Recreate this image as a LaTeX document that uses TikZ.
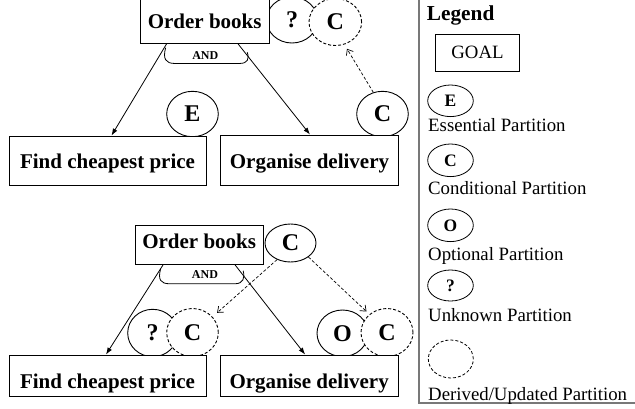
\documentclass[tikz,border=0pt]{standalone}
\usepackage{fontspec}
\setmainfont{Liberation Serif}
\usetikzlibrary{arrows.meta,shapes.geometric,calc}
\definecolor{framegray}{RGB}{120,120,120}
\begin{document}
\begin{tikzpicture}[x=1pt,y=-1pt,
  goalbox/.style={draw,fill=white,line width=0.9pt,inner xsep=0pt,inner ysep=0pt,
    anchor=base,font=\fontsize{21}{24}\selectfont\bfseries},
  part/.style={ellipse,draw,line width=0.9pt,fill=white,inner sep=0pt,
    font=\fontsize{24}{28}\selectfont\bfseries},
  derivedpart/.style={part,dash pattern=on 3pt off 2pt},
  refine/.style={line width=0.8pt,-{Latex[length=7pt,width=5pt]}},
  derivedflow/.style={line width=0.7pt,dash pattern=on 3pt off 2pt,
    -{Straight Barb[length=5pt,width=8pt]}},
  andarc/.style={line width=0.8pt},
  andlbl/.style={inner sep=0pt,font=\fontsize{12}{14}\selectfont\bfseries},
  legpart/.style={ellipse,draw,line width=0.8pt,inner sep=0pt,
    font=\fontsize{17.5}{20}\selectfont\bfseries},
  legtext/.style={inner sep=0pt,anchor=base west,font=\fontsize{18.8}{22}\selectfont}
]
\useasboundingbox (0,0) rectangle (635,408);

% ---------- upper decomposition ----------
\node[part,minimum width=51pt,minimum height=46pt] (q1) at (292,20) {?};
\node[derivedpart,minimum width=52.6pt,minimum height=47pt] (dc1) at (335.3,22) {C};
\node[part,minimum width=51.6pt,minimum height=45.4pt] (e1) at (192.5,114) {E};
\node[part,minimum width=51.6pt,minimum height=45.4pt] (c1) at (382.5,114) {C};

\node[goalbox,minimum width=129.3pt,text height=31.3pt,text depth=15pt] (ob1) at (204.65,28.3) {Order books};
\node[goalbox,minimum width=197pt,text height=32.3pt,text depth=16.7pt] (fcp1) at (107.5,168.3) {Find cheapest price};
\node[goalbox,minimum width=177.6pt,text height=33.3pt,text depth=16.7pt] (od1) at (309.5,168.3) {Organise delivery};

\draw[refine] ([xshift=-38pt]ob1.south) -- ([xshift=4pt]fcp1.north);
\draw[refine] ([xshift=33.3pt]ob1.south) -- ([xshift=0.5pt]od1.north);
\begin{scope}[shift={(ob1.south)}]
  \draw[andarc] (-39,4) .. controls (-42,15) and (-39,19.7) .. (-30,19.7)
    -- (35,19.7) .. controls (43,19.7) and (45,15) .. (42.5,8.5);
  \node[andlbl] (and1) at (0.6,12.2) {AND};
\end{scope}
\draw[derivedflow,shorten >=5pt] (c1.113) -- (dc1.-68);

% ---------- lower decomposition ----------
\node[part,minimum width=51pt,minimum height=38pt] (c2) at (290.5,243) {C};
\node[part,minimum width=50pt,minimum height=47.4pt] (q2) at (152.7,333) {?};
\node[derivedpart,minimum width=51.6pt,minimum height=48pt] (dc2) at (192.5,332.5) {C};
\node[part,minimum width=51pt,minimum height=46.6pt] (o2) at (342.5,333.3) {O};
\node[derivedpart,minimum width=52pt,minimum height=48pt] (dc3) at (387,332.5) {C};

\node[goalbox,minimum width=128.3pt,text height=23.3pt,text depth=16pt] (ob2) at (199.15,248.3) {Order books};
\node[goalbox,minimum width=197pt,text height=33.3pt,text depth=7.7pt] (fcp2) at (107.5,388.3) {Find cheapest price};
\node[goalbox,minimum width=178.3pt,text height=33.3pt,text depth=7.7pt] (od2) at (309.15,388.3) {Organise delivery};

\draw[refine] ([xshift=-36pt]ob2.south) -- ([xshift=-1.5pt]fcp2.north);
\draw[refine] ([xshift=35.8pt]ob2.south) -- ([xshift=-4pt]od2.north);
\begin{scope}[shift={(ob2.south)}]
  \draw[andarc] (-38.5,4) .. controls (-41.5,15) and (-38.5,19) .. (-29.5,19)
    -- (36,19) .. controls (44,19) and (46,13) .. (44,6);
  \node[andlbl] (and2) at (5.8,9.7) {AND};
\end{scope}
\draw[derivedflow,shorten >=6pt] (c2.-129) -- (dc2.38);
\draw[derivedflow,shorten >=4pt] (c2.-38) -- (dc3.134);

% ---------- legend ----------
\draw[framegray,line width=1.3pt] (419,-5) -- (419,403) -- (640,403);
\node[inner sep=0pt,anchor=base west,font=\fontsize{21.3}{24}\selectfont\bfseries] (legtitle) at (426.7,20.7) {Legend};
\node[draw,line width=0.8pt,minimum width=83.6pt,minimum height=37pt,inner sep=0pt,
  font=\fontsize{18.8}{22}\selectfont] (leggoal) at (477.5,52.5) {GOAL};
\node[legpart,minimum width=45.6pt,minimum height=31.6pt] (lege) at (450.5,100.8) {E};
\node[legtext] (legetxt) at (428,131.7) {Essential Partition};
\node[legpart,minimum width=45.6pt,minimum height=32.6pt] (legc) at (450.5,160.3) {C};
\node[legtext] (legctxt) at (428,194) {Conditional Partition};
\node[legpart,minimum width=45.6pt,minimum height=32.6pt] (lego) at (450.5,225.3) {O};
\node[legtext] (legotxt) at (428,260) {Optional Partition};
\node[legpart,minimum width=45.6pt,minimum height=31pt] (legq) at (450.5,285.5) {?};
\node[legtext] (legqtxt) at (428,321) {Unknown Partition};
\node[legpart,dash pattern=on 3pt off 2pt,minimum width=45pt,minimum height=38pt] (legd) at (450.8,359) {};
\node[legtext] (legdtxt) at (428,400) {Derived/Updated Partition};
\end{tikzpicture}
\end{document}
